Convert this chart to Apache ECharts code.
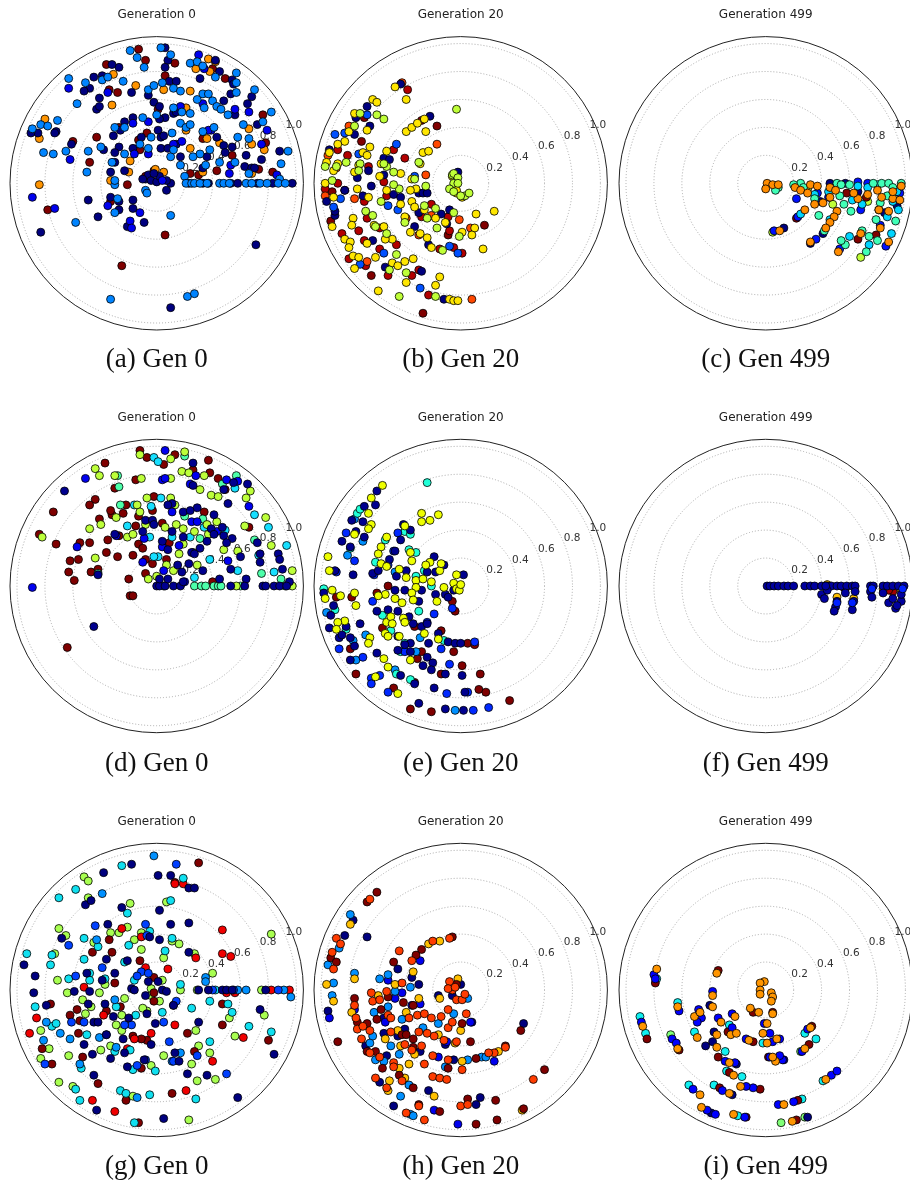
<!DOCTYPE html>
<html>
<head>
<meta charset="utf-8">
<title>Generations</title>
<style>html,body{margin:0;padding:0;background:#fff}#main{width:910px;height:1182px}</style>
<script src="https://cdn.jsdelivr.net/npm/echarts@6/dist/echarts.min.js"></script>
</head>
<body>
<div id="main"></div>
<script>
const ringTicks = [0.2, 0.4, 0.6, 0.8, 1.0];
const captions = ['(a) Gen 0', '(b) Gen 20', '(c) Gen 499', '(d) Gen 0', '(e) Gen 20', '(f) Gen 499', '(g) Gen 0', '(h) Gen 20', '(i) Gen 499'];
const headings = ['Generation 0', 'Generation 20', 'Generation 499'];

// every point is [east, north] in radius units, turned into [radius, angle] below
const a_red = [[-.13,.96],[-.08,.88],[.13,.86],[-.36,.85],[.06,.77],[.40,.82],[.49,.75],[-.34,.67],[-.28,.65],[.01,.53],[-.27,.40],[-.07,.36],[-.13,.31],[-.43,.33],[-.60,.30],[-.48,.15],[-.21,-.01],[-.33,-.13],[-.78,-.19],[.06,-.37],[-.25,-.59],[.76,.49],[.33,.32],[.24,.07],[.30,.06],[.43,.09],[.54,.20],[.73,.10],[.83,.08],[-.12,.24],[.78,.29],[-.02,.09],[-.08,.05]];
const a_orange = [[.37,.89],[.42,.87],[.28,.82],[.38,.80],[-.31,.78],[-.15,.70],[.05,.67],[.24,.66],[-.32,.56],[.21,.54],[-.80,.46],[-.84,.32],[.21,.38],[.24,.25],[.66,.39],[.68,.28],[.77,.24],[.68,.07],[.36,.32],[.45,.29],[-.20,.08],[-.33,.02],[-.19,.16],[-.84,-.01],[.33,.08],[-.01,.10],[.05,.08]];
const a_navy = [[.06,.97],[.08,.88],[.06,.83],[-.27,.83],[-.32,.85],[-.39,.77],[-.45,.76],[-.48,.68],[-.52,.66],[-.41,.61],[-.43,.53],[-.41,.55],[-.18,.65],[-.06,.63],[-.02,.58],[.02,.55],[.06,.47],[.02,.46],[.01,.38],[.03,.33],[.09,.73],[.14,.73],[.31,.75],[.42,.88],[.45,.80],[.54,.74],[.55,.71],[.53,.64],[.48,.59],[.68,.62],[.65,.57],[.56,.49],[.72,.42],[.43,.33],[.48,.27],[.49,.22],[.54,.26],[.64,.20],[.75,.17],[.63,.12],[.68,.11],[.70,.11],[.88,.23],[-.17,.47],[-.23,.44],[-.26,.38],[-.31,.34],[-.27,.26],[-.30,.22],[-.38,.24],[-.61,.28],[-.72,.37],[-.73,.36],[-.85,.36],[-.90,.36],[-.33,.08],[-.30,.15],[-.23,.09],[-.17,.25],[-.11,.33],[.03,.25],[.05,.34],[.08,.25],[.14,.28],[.17,.19],[.12,.50],[.14,.51],[.36,.19],[.33,.11],[-.49,-.12],[-.42,-.24],[-.33,-.10],[-.27,-.19],[-.27,-.13],[-.17,-.12],[-.17,-.18],[-.09,-.28],[-.21,-.31],[.07,-.05],[.71,-.44],[-.83,-.35],[.10,-.89],[-.08,.03],[-.06,.06],[-.04,.02],[0,.01],[.10,0],[.07,.02],[-.10,.03],[.02,.05],[-.02,.07],[.23,0],[.33,0],[.37,0],[.53,0],[.58,0],[.72,0],[.83,0],[.97,0]];
const a_blue = [[.30,.92],[.34,.82],[-.63,.68],[-.35,.65],[.17,.55],[.33,.57],[.56,.53],[.66,.51],[.79,.38],[.75,.28],[.86,.06],[.53,.13],[.52,.07],[.39,.38],[.37,.38],[-.17,.43],[-.06,.44],[-.16,.21],[-.06,.21],[.12,.28],[.18,.30],[-.62,.17],[-.89,-.10],[-.73,-.18],[-.35,-.16],[-.12,-.21],[-.19,-.27],[-.18,-.32],[.04,.02]];
const a_azure = [[-.19,.95],[-.14,.90],[-.09,.83],[.03,.97],[.10,.92],[-.63,.75],[-.51,.72],[-.39,.74],[-.35,.76],[-.24,.73],[-.57,.57],[-.06,.67],[-.02,.70],[.04,.72],[.12,.68],[.17,.66],[.24,.86],[.29,.87],[.33,.84],[.42,.76],[.57,.79],[.57,.72],[.57,.65],[.70,.67],[.29,.60],[.33,.64],[.37,.64],[.40,.59],[.43,.55],[.46,.53],[.51,.49],[.34,.54],[.12,.54],[.18,.51],[.24,.50],[.17,.43],[.21,.40],[.24,.42],[.82,.51],[.76,.44],[.62,.42],[.58,.33],[.66,.32],[.33,.37],[.41,.40],[.38,.24],[.31,.21],[.26,.19],[.35,.13],[.45,.15],[.56,.15],[.89,.14],[.94,.23],[.10,.19],[.12,.24],[.11,.36],[0,.49],[-.10,.47],[-.30,.40],[-.23,.40],[-.40,.26],[-.49,.23],[-.65,.23],[-.74,.21],[-.81,.22],[-.50,.08],[-.32,.15],[-.23,.21],[-.12,.28],[-.06,.25],[-.04,.33],[-.89,.39],[-.83,.42],[-.78,.41],[-.71,.45],[-.30,-.01],[-.30,.02],[-.28,-.11],[-.30,-.21],[-.08,-.05],[-.07,-.07],[.10,-.23],[-.58,-.28],[-.33,-.83],[.22,-.81],[.27,-.79],[.17,.13],[.20,.05],[.88,.03],[.66,.07],[.21,0],[.25,0],[.27,0],[.31,0],[.36,0],[.45,0],[.48,0],[.52,0],[.64,0],[.68,0],[.74,0],[.79,0],[.87,0],[.92,0]];

const b_dark = [[-.17,.41],[-.28,.45],[-.69,.47],[-.71,.30],[-.92,-.06],[-.83,-.05],[-.93,-.27],[.17,-.30],[-.64,-.66],[-.27,-.93],[-.09,-.37]];
const b_red = [[-.38,.67],[-.48,.24],[-.40,.18],[-.88,.24],[-.81,.20],[-.88,0],[-.97,-.04],[-.66,.12],[-.55,.01],[-.53,-.09],[-.69,-.13],[-.67,-.25],[-.85,-.36],[-.73,-.34],[-.69,-.41],[-.58,-.47],[-.80,-.54],[-.68,-.59],[-.52,-.66],[-.35,-.66],[-.30,-.62],[-.23,-.80],[-.15,-.47],[-.05,-.46],[.01,-.50],[-.08,-.34],[-.09,-.24],[-.28,-.24],[-.21,-.15],[-.58,-.32],[-.46,-.44]];
const b_orange = [[-.42,.72],[-.17,.28],[-.25,.06],[-.80,.41],[-.95,.20],[-.89,.11],[-.97,-.09],[-.76,-.11],[-.39,-.25],[-.21,-.23],[-.01,-.26],[.07,-.32],[-.30,-.37],[.08,-.83],[-.67,-.56]];
const b_navy = [[-.43,.71],[-.67,.55],[-.75,.47],[-.65,.41],[-.76,.35],[-.94,.24],[-.74,.04],[-.66,.09],[-.64,-.02],[-.83,-.05],[-.96,-.13],[-.90,-.23],[-.90,-.20],[-.55,.18],[-.51,.17],[-.55,.06],[-.70,-.09],[-.22,.48],[-.48,-.08],[-.43,-.10],[-.33,-.31],[-.63,-.41],[-.23,-.44],[-.28,-.63],[-.54,-.60],[-.12,-.83],[-.30,-.07],[-.27,-.07],[-.24,-.07],[-.30,-.21],[-.14,-.22],[-.08,-.19],[-.02,.08],[-.10,-.29]];
const b_blue = [[-.90,.35],[-.83,.36],[-.73,.21],[-.46,.28],[-.33,.05],[-.86,-.11],[-.91,-.17],[-.52,-.16],[-.45,-.19],[-.55,-.50],[-.72,-.58],[-.29,-.75],[-.08,-.45],[-.02,-.50],[-.67,.49]];
const b_yellow = [[-.47,.69],[-.39,.60],[-.63,.60],[-.60,.58],[-.76,.50],[-.67,.38],[-.80,.37],[-.83,.30],[-.88,.28],[-.94,.22],[-.96,.15],[-.88,.14],[-.91,.09],[-.97,0],[-.91,-.10],[-.76,.08],[-.73,.13],[-.70,.22],[-.67,.20],[-.65,.26],[-.57,.14],[-.53,.23],[-.43,.07],[-.58,.05],[-.53,-.05],[-.66,-.10],[-.74,-.04],[-.39,.37],[-.35,.40],[-.31,.43],[-.26,.46],[-.25,.37],[-.27,.22],[-.23,.23],[-.29,.14],[-.35,.03],[-.32,-.04],[-.36,-.05],[-.35,-.13],[-.33,-.17],[-.26,-.19],[-.18,-.25],[-.11,-.28],[.11,-.22],[.24,-.20],[.01,-.35],[.10,-.32],[.08,-.37],[.16,-.47],[-.29,-.36],[-.24,-.39],[-.36,-.35],[-.40,-.24],[-.43,-.15],[-.49,-.40],[-.54,-.40],[-.62,-.30],[-.55,-.31],[-.77,-.25],[-.78,-.30],[-.83,-.40],[-.79,-.42],[-.80,-.46],[-.77,-.52],[-.73,-.53],[-.76,-.61],[-.61,-.53],[-.67,-.43],[-.49,-.57],[-.45,-.59],[-.40,-.56],[-.34,-.54],[-.39,-.71],[-.59,-.77],[-.18,-.73],[-.15,-.67],[-.08,-.83],[-.05,-.84],[-.02,-.84],[-.21,-.46],[-.92,-.31],[-.06,.05],[-.03,-.07],[.01,-.10],[-.03,-.05]];
const b_lime = [[-.03,.53],[-.60,.49],[-.55,.46],[-.72,.50],[-.76,.41],[-.82,.15],[-.97,.12],[-.89,.12],[-.92,.02],[-.72,.14],[-.73,.09],[-.53,.12],[-.55,.14],[-.48,.08],[-.30,.15],[-.33,.03],[-.25,-.02],[-.44,-.04],[-.48,-.01],[-.57,-.13],[-.68,-.20],[-.63,-.23],[-.26,-.16],[-.18,-.18],[-.24,-.25],[-.17,-.32],[-.05,-.21],[-.01,-.38],[-.13,-.48],[-.46,-.51],[-.39,-.64],[-.51,-.62],[-.44,-.81],[-.18,-.81],[-.53,-.36],[-.61,-.31],[-.40,-.28],[-.06,.06],[-.05,.07],[-.02,.04],[-.05,0],[-.08,-.04],[-.02,0],[-.05,-.06],[.03,-.09],[0,-.09],[.06,-.07]];

const c_lime = [[.68,-.53],[.81,-.19],[.05,-.35],[.73,-.13],[.48,-.15],[.30,-.04]];
const c_dark = [[.22,-.25],[.66,-.40],[.79,-.37],[.58,-.07],[.72,-.10]];
const c_navy = [[.57,0],[.46,0],[.66,-.06],[.85,-.21],[.41,-.36],[.13,-.32],[.32,-.43],[.94,-.16],[.39,-.13]];
const c_blue = [[.96,-.07],[.37,-.07],[.45,-.10],[.66,.01],[.73,0],[.22,-.11],[.36,-.40],[.06,-.34],[.68,-.19],[.86,-.45],[.82,-.30],[.53,-.47],[.23,-.24]];
const c_cyan = [[.66,-.02],[.80,-.01],[.73,-.03],[.45,-.06],[.62,-.12],[.69,-.15],[.91,-.13],[.95,-.19],[.25,-.22],[.46,-.26],[.60,-.38],[.74,-.44],[.90,-.36],[.87,-.24],[.35,-.08],[.94,-.06]];
const c_green = [[.25,0],[.20,-.01],[.51,0],[.54,-.01],[.60,-.01],[.77,0],[.83,0],[.88,0],[.97,0],[.91,-.03],[.87,-.09],[.82,-.14],[.35,-.11],[.38,-.23],[.56,-.15],[.61,-.20],[.53,-.09],[.79,-.26],[.93,-.27],[.69,-.34],[.74,-.38],[.80,-.41],[.57,-.44],[.54,-.41],[.72,-.49],[.42,-.34],[.09,-.03],[.07,-.05],[.27,-.03]];
const c_orange = [[.01,0],[.05,-.01],[.09,-.01],[0,-.04],[.21,-.03],[.25,-.05],[.30,-.07],[.32,-.01],[.37,-.02],[.46,-.03],[.50,-.05],[.46,-.10],[.41,-.14],[.35,-.15],[.28,-.19],[.51,-.20],[.49,-.24],[.46,-.28],[.43,-.32],[.32,-.42],[.10,-.34],[.52,-.49],[.68,-.36],[.66,-.11],[.73,-.08],[.63,-.07],[.80,-.05],[.83,-.10],[.91,-.11],[.91,-.06],[.97,-.02],[.96,-.12],[.88,-.20],[.88,-.42],[.82,-.32],[.81,-.19]];

const d_red = [[-.12,.97],[-.07,.92],[.05,.87],[.13,.94],[.37,.90],[-.37,.88],[.26,.83],[.38,.81],[.44,.77],[-.15,.76],[-.30,.70],[-.44,.62],[-.48,.58],[-.74,.53],[-.84,.37],[-.72,.30],[-.55,.31],[-.48,.31],[-.62,.18],[-.56,.19],[-.63,.10],[-.59,.04],[-.47,.10],[-.42,.12],[-.36,.24],[-.28,.21],[-.17,.22],[-.35,.33],[-.32,.51],[-.33,.54],[-.41,.48],[-.24,.52],[-.22,.58],[-.13,.50],[-.15,.43],[-.27,.36],[-.13,.30],[-.10,.27],[-.03,.54],[.04,.45],[-.20,.05],[-.19,-.07],[-.17,-.07],[-.64,-.44],[-.08,.19],[-.08,.09],[-.03,.16],[.07,.19],[.09,.31],[.34,.53],[.40,.03],[.66,.42],[.49,.69],[-.02,.64]];
const d_green = [[-.28,.79],[-.27,.71],[.20,.93],[.57,.79],[.47,.73],[-.26,.58],[.33,.48],[.20,.50],[.31,.34],[.70,.33],[.75,.09],[.89,.05],[-.42,.09],[.27,0],[.32,0],[.35,0],[.41,0],[.44,0],[.46,0],[.60,0],[.92,0],[.05,0]];
const d_cyan = [[-.02,.92],[.01,.89],[.03,.63],[-.04,.57],[-.16,.58],[.56,.70],[.70,.51],[.80,.42],[-.21,.43],[-.05,.35],[.11,.35],[.93,.29],[.73,.22],[.58,.11],[.84,.10],[.38,.19],[.27,.06],[.01,.21],[-.02,.21],[.24,.35],[.49,.40],[.34,.42]];
const d_lime = [[-.12,.94],[.10,.91],[.20,.96],[-.44,.84],[-.41,.79],[-.30,.79],[-.11,.77],[.10,.77],[.18,.82],[.23,.81],[.34,.79],[.31,.69],[.39,.65],[.44,.64],[.64,.63],[.67,.68],[.78,.49],[.63,.43],[-.82,.35],[-.48,.41],[-.40,.44],[-.29,.49],[-.21,.35],[-.17,.37],[-.07,.63],[.10,.63],[.13,.58],[-.14,.58],[-.12,.53],[-.08,.44],[.06,.42],[.14,.44],[.43,.46],[.36,.44],[.27,.39],[.19,.41],[.37,.37],[.48,.26],[.16,.23],[.19,.30],[.29,.15],[.26,.24],[-.44,.20],[.82,.29],[.97,.11],[.97,0],[.57,0],[.58,.25],[-.06,.05],[0,.07],[.12,.11],[.07,.15]];
const d_blue = [[.06,.97],[-.51,.77],[.04,.76],[.06,.77],[.24,.73],[.28,.79],[.50,.76],[.58,.75],[.66,.57],[.25,.46],[.29,.46],[.11,.53],[-.09,.34],[-.29,.36],[-.57,.28],[.04,.28],[.16,.29],[.51,.18],[.43,.39],[-.10,.17],[.05,.11],[-.89,-.01],[.20,.03]];
const d_navy = [[-.66,.68],[.26,.88],[.26,.72],[.48,.69],[.55,.74],[.65,.73],[.51,.59],[.19,.53],[.24,.54],[.29,.56],[.41,.51],[.11,.59],[.08,.58],[-.08,.47],[-.03,.47],[-.02,.44],[-.30,.37],[-.10,.39],[.04,.32],[.11,.39],[.19,.35],[.39,.41],[.47,.42],[.48,.36],[.54,.34],[.50,.31],[.41,.37],[.36,.32],[.31,.27],[.25,.24],[.27,.23],[.60,.21],[.53,.12],[.72,.31],[.74,.23],[.74,.17],[.87,.23],[.88,.19],[.90,.12],[.95,.03],[.64,.05],[.45,.05],[.23,.16],[.18,.10],[.15,.15],[.08,.26],[.33,.11],[-.42,.08],[-.45,-.29],[0,0],[.02,0],[.06,0],[.12,0],[.17,0],[.53,0],[.63,0],[.76,0],[.78,0],[.84,0],[.88,0],[.93,0],[.02,.05],[.08,.05],[.19,.03]];

const e_red = [[-.52,0],[-.60,-.05],[-.78,-.08],[-.89,-.08],[-.56,-.30],[-.33,-.29],[-.14,-.32],[.05,-.41],[.10,-.42],[-.05,-.47],[-.79,-.45],[-.75,-.63],[-.48,-.73],[-.33,-.69],[-.36,-.88],[-.21,-.90],[-.31,-.52],[-.28,-.47],[.01,-.57],[.14,-.63],[-.14,-.63],[.13,-.74],[.18,-.76],[.35,-.82],[-.04,-.18],[-.06,-.11]];
const e_azure = [[-.76,.48],[-.70,.32],[-.81,.22],[-.96,-.19],[-.77,-.39],[-.68,-.35],[-.75,-.53],[-.29,-.37],[-.04,-.89],[-.47,-.60],[-.32,-.47],[-.47,.10]];
const e_cyan = [[-.24,.74],[-.74,.52],[-.72,.55],[-.79,.27],[-.98,-.02],[-.90,-.17],[-.82,-.31],[-.61,.17],[-.54,.33],[-.37,.26],[-.32,.24],[-.26,.11],[-.32,.07],[-.21,0],[-.30,-.18],[-.56,-.21],[-.50,-.32],[-.40,-.41],[-.43,-.47],[-.46,-.63],[-.36,-.67],[-.12,-.39],[-.40,.39],[-.36,.37]];
const e_blue = [[-.82,.38],[-.89,.10],[-.76,.18],[-.62,.08],[-.45,.38],[-.48,.25],[-.52,.15],[-.63,-.11],[-.19,-.20],[-.24,-.26],[-.87,-.45],[-.70,-.51],[-.64,-.66],[-.64,-.70],[-.52,-.76],[-.58,-.64],[-.08,-.56],[-.10,-.77],[.05,-.76],[.09,-.89],[.20,-.87],[.10,-.40],[-.06,-.16],[-.14,-.45],[-.40,-.47]];
const e_navy = [[-.60,.68],[-.61,.58],[-.69,.57],[-.78,.47],[-.70,.46],[-.75,.39],[-.69,.35],[-.85,.32],[-.79,.28],[-.77,.08],[-.90,.11],[-.98,-.05],[-.91,-.14],[-.93,-.21],[-.94,-.30],[-.82,-.29],[-.72,-.27],[-.79,-.37],[-.87,-.37],[-.85,-.35],[-.76,-.43],[-.79,-.53],[-.60,-.48],[-.43,-.64],[-.33,-.70],[-.30,-.84],[-.19,-.73],[-.11,-.88],[.02,-.89],[-.41,.44],[-.36,.40],[-.43,.33],[-.47,.25],[-.51,.19],[-.63,.09],[-.59,.11],[-.46,.07],[-.39,.11],[-.19,.21],[-.24,.10],[-.18,.10],[-.12,.15],[.02,.08],[-.11,-.06],[-.09,-.08],[-.05,-.03],[-.18,-.06],[-.28,-.03],[-.30,-.11],[-.40,-.03],[-.47,-.03],[-.45,-.18],[-.60,-.18],[-.52,-.17],[-.37,-.22],[-.34,-.27],[-.28,-.29],[-.24,-.27],[-.09,-.40],[-.04,-.41],[0,-.41],[-.16,-.34],[-.23,-.41],[-.36,-.41],[-.45,-.36],[-.45,-.46],[-.36,-.47],[-.40,-.42],[-.27,-.57],[-.24,-.51],[-.20,-.55],[-.21,-.60],[.01,-.64],[-.11,-.63],[.03,-.76]];
const e_yellow = [[-.56,.72],[-.64,.63],[-.66,.52],[-.64,.44],[-.66,.41],[-.76,.37],[-.95,.21],[-.94,.11],[-.92,-.03],[-.86,-.07],[-.97,-.09],[-.76,-.05],[-.75,-.14],[-.83,-.25],[-.88,-.26],[-.89,-.31],[-.65,-.37],[-.66,-.41],[-.55,-.52],[-.52,-.58],[-.61,-.65],[-.45,-.77],[-.28,.52],[-.28,.46],[-.22,.47],[-.16,.51],[-.40,.43],[-.53,.35],[-.57,.28],[-.59,.23],[-.57,.16],[-.53,.14],[-.36,.24],[-.35,.18],[-.44,.12],[-.39,.06],[-.32,.04],[-.27,.05],[-.32,-.01],[-.35,-.05],[-.34,-.10],[-.42,-.12],[-.47,-.09],[-.54,-.06],[-.59,-.07],[-.53,-.26],[-.50,-.22],[-.49,-.27],[-.54,-.34],[-.52,-.36],[-.44,-.36],[-.41,-.23],[-.40,-.26],[-.26,-.34],[-.16,-.38],[-.36,-.53],[-.22,.17],[-.25,.15],[-.21,.03],[-.15,.11],[-.12,-.01],[-.05,.02],[-.03,.08],[-.03,-.02],[-.01,-.03],[0,.01],[-.17,-.11],[-.14,.16]];

const f_red = [[.57,-.02],[.91,-.04],[.88,-.03],[.56,-.01]];
const f_yellow = [[.51,-.08],[.44,.01],[.63,-.09],[.84,-.02],[.97,-.03]];
const f_bright = [[.76,-.02],[.98,-.02],[.62,-.12],[.51,-.12]];
const f_navy = [[.01,0],[.03,0],[.06,0],[.09,0],[.13,0],[.16,0],[.20,0],[.28,0],[.32,0],[.35,0],[.40,0],[.44,0],[.47,0],[.51,0],[.54,0],[.58,0],[.62,0],[.64,0],[.75,0],[.77,0],[.84,0],[.87,0],[.91,0],[.95,0],[.99,0],[.40,-.06],[.42,-.09],[.44,-.03],[.51,-.11],[.50,-.15],[.49,-.18],[.57,-.05],[.62,-.17],[.63,-.11],[.64,-.04],[.75,-.04],[.76,-.08],[.84,-.05],[.88,-.12],[.91,-.09],[.93,-.16],[.97,-.11],[.97,-.06],[.94,-.14],[.43,0]];

const g_lime = [[-.52,.81],[-.49,.78],[-.49,.66],[-.19,.62],[.07,.63],[-.70,.44],[-.65,.39],[-.73,.26],[-.71,.07],[-.64,-.02],[-.27,.41],[-.33,.41],[-.21,.45],[-.16,.36],[-.11,.41],[.16,.33],[.11,.35],[-.11,.29],[.05,.23],[-.45,.34],[-.37,.04],[-.41,-.02],[-.53,-.07],[-.47,-.12],[-.51,-.17],[-.23,-.06],[-.25,-.18],[-.29,-.25],[-.25,-.29],[-.33,-.40],[-.40,-.43],[-.63,-.47],[-.77,-.42],[-.83,-.49],[-.83,-.29],[-.70,-.66],[-.60,-.69],[-.17,-.76],[.23,-.93],[.29,-.65],[.42,-.64],[.25,-.53],[.05,-.47],[-.04,-.54],[.28,-.29],[.30,-.40],[.38,-.45],[.56,-.33],[.52,-.20],[.77,-.18],[.82,.40],[.40,.12],[.27,.26],[.17,0],[.29,0],[.75,0],[-.07,-.15],[-.10,-.13],[-.04,.01],[-.04,-.04],[.02,-.08],[.04,.07]];
const g_dark = [[.30,.91],[.13,.77],[-.34,.36],[-.46,.27],[-.32,.27],[-.30,.05],[-.76,-.10],[-.62,-.18],[-.57,-.14],[-.55,-.22],[-.56,-.31],[-.82,-.42],[-.75,-.53],[-.53,-.48],[-.42,-.67],[-.22,-.79],[-.13,-.95],[.11,-.74],[-.11,-.56],[-.07,-.36],[-.11,-.35],[-.17,-.33],[-.36,-.15],[-.26,-.12],[-.12,.21],[-.02,.09],[-.02,-.02],[-.02,-.08],[.12,-.11],[.47,-.25],[.47,-.10],[.27,-.44],[.80,-.36],[.22,-.31]];
const g_red = [[.13,.76],[.19,.76],[.47,.43],[.47,.26],[.53,.24],[.28,.23],[.08,.15],[-.11,.38],[-.25,.44],[-.08,.16],[-.52,.02],[-.86,-.20],[-.91,-.31],[-.38,-.18],[-.16,-.35],[-.21,-.42],[-.04,-.31],[.13,-.25],[.62,-.34],[.21,-.72],[-.46,-.79],[-.30,-.87],[.40,-.51],[.82,0],[.95,0],[.50,-.02],[.56,-.02]];
const g_cyan = [[-.25,.89],[.19,.80],[-.70,.66],[-.58,.72],[.10,.64],[-.21,.55],[-.05,.42],[.11,.37],[.06,.28],[-.93,.26],[-.75,.25],[-.76,.18],[-.52,.37],[-.52,.22],[-.63,.08],[-.48,.12],[-.48,.07],[-.37,.08],[-.23,.20],[-.20,.32],[-.42,.31],[-.87,-.12],[-.75,-.26],[-.72,-.24],[-.50,-.32],[-.30,-.44],[-.19,-.43],[-.17,-.57],[-.01,-.58],[-.26,-.72],[-.22,-.74],[-.05,-.75],[.28,-.78],[-.16,-.95],[-.55,-.79],[-.58,-.71],[-.54,-.56],[.25,-.13],[.38,-.37],[.66,-.26],[.82,-.30],[.54,-.16],[.51,-.10],[.38,-.08],[.42,0],[.17,.04],[.04,-.16],[-.16,.07],[-.29,-.12],[-.15,-.18]];
const g_azure = [[-.02,.96],[-.39,.69],[-.43,.36],[.35,.09],[.35,.06],[.64,0],[.91,0],[.96,-.05],[.58,0],[-.79,-.23],[-.69,-.31],[-.62,-.35],[-.81,-.36],[-.55,-.53],[-.30,-.07],[-.41,-.34],[-.29,-.41],[.17,-.45],[.11,-.51],[-.14,-.77]];
const g_blue = [[.14,.90],[-.44,.46],[-.08,.47],[-.63,.32],[-.58,.10],[-.39,.16],[-.11,.13],[-.14,.10],[-.06,.12],[.40,0],[.55,0],[.87,0],[.50,-.60],[.29,-.47],[.09,-.37],[.05,-.23],[.14,-.08],[-.18,-.25],[-.14,-.54],[-.61,-.23],[-.52,-.23],[-.36,-.32],[-.23,-.25],[-.80,-.53],[-.07,.39],[-.08,-.50],[.12,-.51]];
const g_navy = [[-.18,.90],[-.38,.84],[.01,.82],[.10,.82],[.23,.73],[.27,.73],[-.51,.61],[-.47,.64],[-.25,.59],[.02,.57],[-.35,.47],[.10,.47],[.23,.48],[-.68,.37],[-.95,.18],[-.87,.10],[-.88,-.02],[-.59,-.01],[-.50,.12],[-.48,-.01],[-.36,.22],[-.21,.21],[-.30,.12],[-.39,.07],[-.18,.01],[-.16,0],[.02,.36],[.23,.27],[-.05,.38],[-.06,.06],[.01,.06],[.04,0],[-.08,-.04],[.07,-.01],[.30,0],[.37,0],[.47,0],[.50,0],[.54,0],[.78,0],[.74,-.14],[.84,-.46],[.58,-.77],[.30,-.23],[.12,-.11],[-.49,-.10],[-.37,-.10],[-.31,-.19],[-.45,-.23],[-.42,-.23],[-.20,-.20],[-.01,-.24],[-.52,-.39],[-.46,-.46],[-.33,-.49],[-.23,-.45],[-.21,-.55],[-.09,-.50],[-.04,-.39],[.13,-.45],[.16,-.51],[.22,-.60],[.36,-.61],[-.45,-.61],[-.43,-.86],[.05,-.92],[-.79,-.11],[-.07,-.17],[-.24,-.35],[-.36,-.32]];

const h_navy = [[-.77,.50],[-.67,.38],[-.83,.39],[-.95,-.15],[-.45,.15],[-.35,.09],[-.30,.04],[-.55,-.20],[-.55,-.31],[-.40,-.28],[-.45,-.33],[-.53,-.47],[-.68,-.40],[-.58,-.66],[-.48,-.83],[-.23,-.72],[.14,-.77],[.11,-.82],[.45,-.24],[-.11,-.39],[-.05,-.50],[-.29,-.44],[0,.04],[-.06,-.04],[-.16,-.04],[.08,-.23]];
const h_blue = [[-.76,-.14],[-.94,-.20],[-.52,.07],[-.47,-.06],[-.42,-.02],[-.35,-.11],[-.29,-.10],[-.54,-.23],[-.16,-.48],[-.10,-.37],[.24,-.51],[-.02,-.96],[-.19,-.86],[.07,-.23],[-.29,.21]];
const h_azure = [[-.79,.54],[-.95,.18],[-.76,.12],[-.91,.05],[-.92,-.04],[-.87,.30],[-.58,.08],[-.52,.11],[-.47,-.01],[-.36,.02],[-.52,-.12],[-.62,-.16],[-.42,-.21],[-.63,-.33],[-.65,-.38],[-.50,-.40],[-.61,-.50],[-.55,-.51],[-.44,-.46],[-.43,-.76],[-.27,-.27],[-.36,-.89],[-.34,-.90],[-.11,-.55],[.15,-.48],[.18,-.48],[.05,-.50],[-.37,-.68],[-.16,-.24],[-.05,-.17],[.05,-.06]];
const h_amber = [[-.79,.47],[-.96,.04],[-.91,-.08],[-.76,.08],[-.78,-.16],[-.15,.35],[-.23,.33],[-.34,.13],[-.47,.04],[-.59,-.04],[-.45,-.29],[-.54,-.35],[-.43,-.40],[-.33,-.46],[-.37,-.53],[-.51,-.65],[-.44,-.56],[-.40,-.63],[-.19,-.76],[-.52,-.72],[.01,-.51],[.27,-.44],[.44,-.86],[0,-.29],[-.02,.08],[-.15,-.06],[-.30,-.06],[-.39,-.16],[-.16,-.32],[-.04,-.38]];
const h_dark = [[-.60,.70],[-.67,.63],[-.06,.38],[-.28,.29],[-.32,.25],[-.48,.20],[-.93,.23],[-.89,.20],[-.76,-.06],[-.74,-.23],[-.67,-.24],[-.88,-.37],[-.60,-.21],[-.57,-.14],[-.52,-.05],[-.41,-.09],[-.34,-.11],[-.42,-.32],[-.39,-.32],[-.34,-.35],[-.34,-.41],[-.67,-.44],[-.61,-.44],[-.56,-.56],[-.44,-.61],[-.34,-.70],[-.30,-.82],[-.15,-.87],[.11,-.96],[.26,-.93],[.05,-.78],[.25,-.79],[.45,-.85],[.60,-.57],[.43,-.29],[.07,-.37],[.11,-.49],[-.09,-.56],[.32,-.40],[.01,-.24],[-.03,.04]];
const h_orange = [[-.65,.65],[-.89,.37],[-.86,.33],[-.92,.27],[-.91,.15],[-.44,.28],[-.08,.37],[-.20,.35],[-.35,.21],[-.42,.05],[-.53,-.01],[-.64,-.02],[-.63,-.08],[-.58,-.07],[-.76,-.11],[-.75,-.20],[-.74,-.28],[-.70,-.26],[-.65,-.29],[-.71,-.35],[-.65,-.45],[-.58,-.48],[-.48,-.52],[-.48,-.55],[-.61,-.63],[-.53,-.70],[-.39,-.88],[-.26,-.93],[-.30,-.83],[-.20,-.62],[-.15,-.63],[-.10,-.64],[.01,-.57],[-.09,-.50],[0,-.83],[.05,-.82],[.52,-.64],[.24,-.45],[.32,-.41],[.20,-.45],[-.26,-.53],[-.20,-.47],[-.28,-.40],[-.40,-.39],[-.35,-.43],[-.50,-.30],[-.52,-.18],[-.50,-.20],[-.37,-.20],[-.31,-.18],[-.26,-.17],[-.21,-.20],[-.30,-.30],[-.24,-.31],[-.19,-.33],[-.09,-.27],[-.06,-.23],[-.09,-.14],[-.14,-.19],[.04,-.17],[-.03,-.37],[-.12,-.36],[-.08,.06],[-.06,0],[-.09,.01],[-.04,.02],[-.03,-.07],[.01,-.07],[.03,-.03],[-.42,-.65]];

const i_green = [[-.68,-.32],[.11,-.95],[.28,-.91],[.25,-.44]];
const i_cyan = [[-.90,-.19],[-.86,-.31],[-.63,-.09],[-.51,-.30],[-.29,-.44],[-.28,-.58],[-.17,-.62],[-.55,-.68],[-.37,-.68],[-.20,-.90],[.26,-.78],[.41,-.65],[.36,-.35],[.28,-.31],[-.26,-.25],[-.78,.08],[-.02,-.38]];
const i_dark = [[-.79,.05],[-.85,-.35],[-.62,-.43],[-.34,.14],[-.34,-.48],[-.26,-.59],[-.33,-.70],[-.04,-.71],[-.09,-.37],[.02,-.48],[-.14,-.91],[.23,-.79],[.22,-.93],[.33,-.26],[.31,-.39],[.05,-.16],[-.09,-.16],[-.27,-.30]];
const i_navy = [[-.21,-.53],[-.43,-.40],[-.38,-.37],[-.37,-.30],[-.24,-.75],[-.39,-.88],[.30,-.91],[.13,-.50],[-.40,-.11]];
const i_blue = [[-.80,.11],[-.79,.08],[-.62,-.15],[-.89,-.23],[-.67,-.35],[-.64,-.38],[-.52,-.71],[-.31,-.72],[-.42,-.86],[-.36,-.89],[-.15,-.91],[-.09,-.70],[-.14,-.69],[.09,-.82],[.20,-.80],[.47,-.61],[.51,-.58],[.09,-.49],[.12,-.50],[.10,-.47],[.03,-.48],[-.01,-.24],[.03,-.31],[.05,-.37],[.10,-.35],[-.14,-.35],[-.24,-.27],[-.29,-.51],[-.22,-.52],[-.38,-.01],[-.48,-.14],[-.46,-.20],[-.49,-.23],[-.34,-.20],[-.24,-.17],[.30,-.28],[.26,-.44]];
const i_orange = [[-.01,.06],[-.04,.05],[-.04,0],[-.04,-.03],[.04,-.02],[.05,-.05],[.04,-.08],[-.78,.15],[-.35,.12],[-.38,-.04],[-.63,-.12],[-.38,-.12],[-.51,-.19],[-.47,-.16],[-.11,-.13],[-.05,-.16],[.05,-.17],[-.22,-.19],[-.32,-.23],[.01,-.24],[.32,-.27],[-.88,-.26],[-.49,-.34],[-.35,-.32],[-.25,-.32],[-.21,-.31],[-.02,-.31],[-.12,-.36],[.01,-.38],[.08,-.35],[.28,-.42],[-.63,-.42],[-.35,-.41],[-.26,-.52],[-.23,-.61],[-.18,-.69],[.07,-.51],[.05,-.48],[.43,-.64],[-.47,-.75],[-.26,-.74],[.13,-.82],[-.46,-.84],[-.23,-.89],[.19,-.94]];

// back to front, so the colour on top of each panel stays on top
const panels = [
    [['#7f0000', a_red], ['#ff9400', a_orange], ['#00007f', a_navy], ['#0000ee', a_blue], ['#0084ff', a_azure]],
    [['#800000', b_dark], ['#b20000', b_red], ['#ff4800', b_orange], ['#00007f', b_navy], ['#0050ff', b_blue], ['#ffe600', b_yellow], ['#bfff38', b_lime]],
    [['#bfff38', c_lime], ['#7f0000', c_dark], ['#00007f', c_navy], ['#0010ff', c_blue], ['#00d4ff', c_cyan], ['#40ffb7', c_green], ['#ff8c00', c_orange]],
    [['#7f0000', d_red], ['#4dffaa', d_green], ['#16dfff', d_cyan], ['#bdff3a', d_lime], ['#0000f0', d_blue], ['#00008f', d_navy]],
    [['#7f0000', e_red], ['#0090ff', e_azure], ['#20ffd7', e_cyan], ['#0028ff', e_blue], ['#00008f', e_navy], ['#eeff00', e_yellow]],
    [['#ffc000', f_yellow], ['#a00000', f_red], ['#00009f', f_navy], ['#0020ff', f_bright]],
    [['#a8ff50', g_lime], ['#7f0000', g_dark], ['#f00000', g_red], ['#10e0f0', g_cyan], ['#0090ff', g_azure], ['#0040ff', g_blue], ['#00007f', g_navy]],
    [['#00007f', h_navy], ['#0000ee', h_blue], ['#0090ff', h_azure], ['#ffc000', h_amber], ['#7f0000', h_dark], ['#ff3c00', h_orange]],
    [['#80ff77', i_green], ['#10f0f0', i_cyan], ['#7f0000', i_dark], ['#00007f', i_navy], ['#0000ff', i_blue], ['#ff9500', i_orange]]
];

const chart = echarts.init(document.getElementById('main'));
const colX = [156.7, 460.7, 765.7];
const rowY = [183.3, 586, 990];
const titleY = [9, 412, 816];
const capY = [346, 750, 1153];

function toPolar(p) {
    let ang = Math.atan2(p[1], p[0]) * 180 / Math.PI;
    while (ang < 22.5) ang += 360;
    return [Math.hypot(p[0], p[1]), ang];
}

const polar = [], angleAxis = [], radiusAxis = [], title = [], series = [];
for (let i = 0; i < 9; i++) {
    const c = colX[i % 3], r = Math.floor(i / 3);
    polar.push({ center: [c, rowY[r]], radius: [0, 146.7] });
    angleAxis.push({
        polarIndex: i, type: 'value', min: 22.5, max: 382.5, startAngle: 22.5, clockwise: false,
        axisLine: { show: true, lineStyle: { color: '#222', width: 1 } },
        axisTick: { show: false }, axisLabel: { show: false }, splitLine: { show: false }
    });
    radiusAxis.push({
        polarIndex: i, type: 'value', min: 0, max: 1.05,
        axisLine: { show: false },
        axisTick: { show: false, customValues: ringTicks },
        splitLine: { show: true, lineStyle: { color: '#aaa', type: [1, 2], width: 1 } },
        axisLabel: {
            customValues: ringTicks, margin: 5, align: 'center', verticalAlign: 'middle',
            color: '#333', fontSize: 10.5, fontFamily: 'DejaVu Sans',
            padding: [0, 0, 0, 20],
            formatter: v => v.toFixed(1)
        }
    });
    title.push({
        text: headings[i % 3], left: c, top: titleY[r], textAlign: 'center', padding: 0,
        textStyle: { fontFamily: 'DejaVu Sans', fontSize: 12, fontWeight: 'normal', color: '#222' }
    });
    title.push({
        text: captions[i], left: c, top: capY[r], textAlign: 'center', padding: 0,
        textStyle: { fontFamily: 'Liberation Serif', fontSize: 27, fontWeight: 'normal', color: '#111' }
    });
    panels[i].forEach(function (group) {
        series.push({
            type: 'scatter', coordinateSystem: 'polar', polarIndex: i, symbolSize: 8,
            itemStyle: { color: group[0], borderColor: '#000', borderWidth: 0.8, opacity: 1 },
            data: group[1].map(toPolar)
        });
    });
}

chart.setOption({ backgroundColor: '#fff', animation: false, title, polar, angleAxis, radiusAxis, series });
</script>
</body>
</html>
